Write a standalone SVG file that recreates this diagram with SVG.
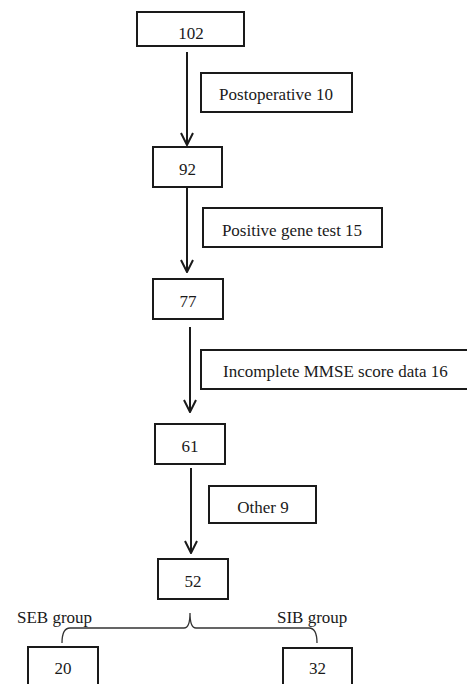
<svg xmlns="http://www.w3.org/2000/svg" width="467" height="684" viewBox="0 0 467 684">
<style>
.box{fill:#fff;stroke:#1a1a1a;stroke-width:2}
.t{font-family:"Liberation Serif","Times New Roman","DejaVu Serif",serif;font-size:17px;fill:#1a1a1a}
.c{text-anchor:middle}
.ln{fill:none;stroke:#1a1a1a;stroke-width:2}
.br{fill:none;stroke:#333;stroke-width:1.3}
</style>
<defs>
<marker id="ah" viewBox="0 0 14 14" refX="13" refY="7" markerWidth="14" markerHeight="14" markerUnits="userSpaceOnUse" orient="auto">
<polyline points="1,1 13,7 1,13" fill="none" stroke="#1a1a1a" stroke-width="2"/>
</marker>
</defs>
<rect width="467" height="684" fill="#fff"/>
<g id="connectors">
<line class="ln" x1="187" y1="52" x2="187" y2="145" marker-end="url(#ah)"/>
<line class="ln" x1="187" y1="187" x2="187" y2="272" marker-end="url(#ah)"/>
<line class="ln" x1="190" y1="327" x2="190" y2="412" marker-end="url(#ah)"/>
<line class="ln" x1="191" y1="468" x2="191" y2="553" marker-end="url(#ah)"/>
<path class="br" d="M62,643 Q62,628 70,628 L184,628 Q190,628 190,613 Q190,628 196,628 L309,628 Q317,628 317,643"/>
</g>
<g id="n102"><rect class="box" x="137" y="12" width="107" height="34"/><text class="t c" x="191" y="39">102</text></g>
<g id="exc1"><rect class="box" x="201" y="73" width="151" height="39"/><text class="t c" x="276" y="100">Postoperative 10</text></g>
<g id="n92"><rect class="box" x="153" y="147" width="69" height="40"/><text class="t c" x="187.5" y="175">92</text></g>
<g id="exc2"><rect class="box" x="203" y="208" width="179" height="39"/><text class="t c" x="292" y="236">Positive gene test 15</text></g>
<g id="n77"><rect class="box" x="153" y="279" width="70" height="40"/><text class="t c" x="188" y="307">77</text></g>
<g id="exc3"><rect class="box" x="201" y="350" width="270" height="39"/><text class="t" x="223" y="377">Incomplete MMSE score data 16</text></g>
<g id="n61"><rect class="box" x="155" y="424" width="70" height="40"/><text class="t c" x="190" y="452">61</text></g>
<g id="exc4"><rect class="box" x="209" y="486" width="107" height="37"/><text class="t c" x="263" y="513">Other 9</text></g>
<g id="n52"><rect class="box" x="158" y="559" width="70" height="40"/><text class="t c" x="193" y="587">52</text></g>
<g id="lblSEB"><text class="t" x="17" y="623">SEB group</text></g>
<g id="lblSIB"><text class="t" x="277" y="623">SIB group</text></g>
<g id="n20"><rect class="box" x="28" y="647" width="70" height="45"/><text class="t c" x="63" y="674">20</text></g>
<g id="n32"><rect class="box" x="283" y="648" width="69" height="45"/><text class="t c" x="317.5" y="674">32</text></g>
</svg>
